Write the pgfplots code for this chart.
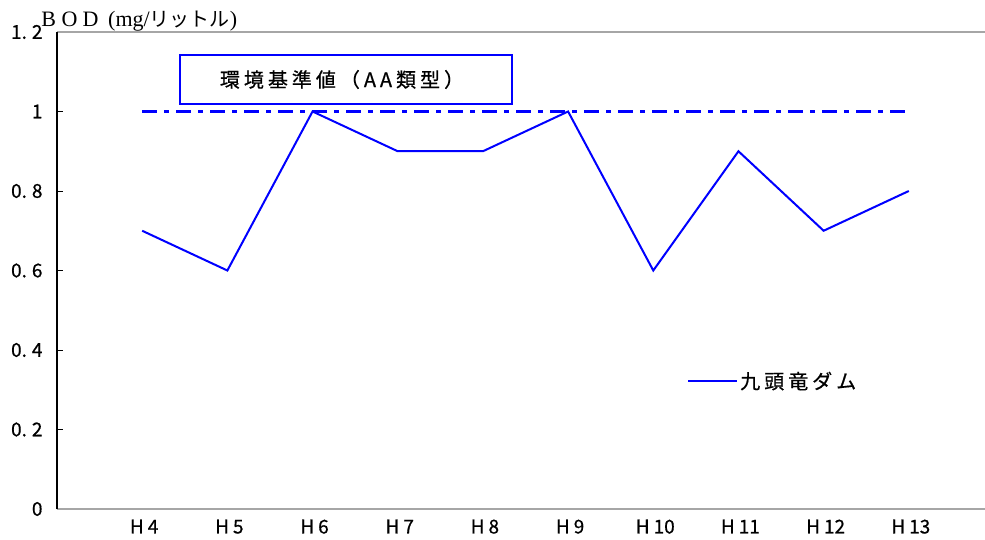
\documentclass[border=0pt]{standalone}
\usepackage{fontspec}
\usepackage{pgfplots}
\pgfplotsset{compat=1.18}
\setmainfont{Noto Sans CJK JP}
\newfontfamily\jp[FakeBold=0.6]{Noto Sans CJK JP}
\newfontfamily\jpsp[LetterSpace=20,FakeBold=0.6]{Noto Sans CJK JP}
\newfontfamily\jpl{Noto Sans CJK JP}
\newfontfamily\ser{Liberation Serif}
\begin{document}
\begin{tikzpicture}[x=1pt,y=1pt]
\path[use as bounding box] (0,0) rectangle (985,539);
\begin{axis}[
  at={(57pt,30pt)}, anchor=south west,
  scale only axis, width=937pt, height=477pt,
  xmin=-1, xmax=10, ymin=0, ymax=1.2,
  axis line style={draw=none},
  xtick={0,1,2,3,4,5,6,7,8,9},
  xticklabels={H\hspace{4pt}4,H\hspace{4pt}5,H\hspace{4pt}6,H\hspace{4pt}7,H\hspace{4pt}8,H\hspace{4pt}9,H\hspace{4pt}10,H\hspace{4pt}11,H\hspace{4pt}12,H\hspace{4pt}13},
  xtick style={draw=none},
  ytick={0,0.2,0.4,0.6,0.8,1,1.2},
  yticklabels={0,0.\hspace{5pt}2,0.\hspace{5pt}4,0.\hspace{5pt}6,0.\hspace{5pt}8,1,1.\hspace{5pt}2},
  ytick pos=left, tick align=inside, major tick length=6pt,
  ytick style={black, line width=0.8pt},
  ticklabel style={font=\jp\fontsize{19}{19}\selectfont},
  yticklabel style={xshift=-11pt},
  xticklabel style={yshift=-7pt, xshift=2pt},
  clip=false,
  legend style={at={(rel axis cs:0.6724,0.2683)}, anchor=west, draw=none, fill=none,
    inner sep=0pt, nodes={inner sep=2pt}, font=\jpsp\fontsize{20}{20}\selectfont,
    cells={anchor=west}},
  legend image code/.code={\draw[#1] (0pt,0pt) -- (49pt,0pt);},
  after end axis/.code={
    \draw[gray!70, line width=1.8pt] (rel axis cs:0,0) -- (rel axis cs:1,0);
    \draw[gray!70, line width=1.8pt] (rel axis cs:0,1) -- (rel axis cs:1,1);
    \draw[black, line width=2pt] (rel axis cs:0,0) -- (rel axis cs:0,1);
  },
]
\addplot[color=blue, line width=2.2pt, forget plot, dash pattern=on 15pt off 7pt on 5pt off 7pt]
  coordinates {(0,1) (9,1)};
\addplot[color=blue, line width=2pt] coordinates {
  (0,0.7) (1,0.6) (2,1.0) (3,0.9) (4,0.9) (5,1.0) (6,0.6) (7,0.9) (8,0.7) (9,0.8)};
\addlegendentry{九頭竜ダム}
\end{axis}
\draw[blue, line width=2pt, fill=white] (180,435) rectangle (512,484);
\node[inner sep=0pt] at (342,459.5) {\jpsp\fontsize{20}{20}\selectfont 環境基準値（AA類型）};
\node[anchor=base west, inner sep=0pt] at (38,512) {%
  {\ser\fontsize{22}{22}\selectfont\makebox[21pt]{B}\makebox[21pt]{O}\makebox[21pt]{D}\hspace{7pt}(mg/}%
  {\jpl\fontsize{20}{20}\selectfont リットル}%
  {\ser\fontsize{22}{22}\selectfont)}};
\end{tikzpicture}
\end{document}
